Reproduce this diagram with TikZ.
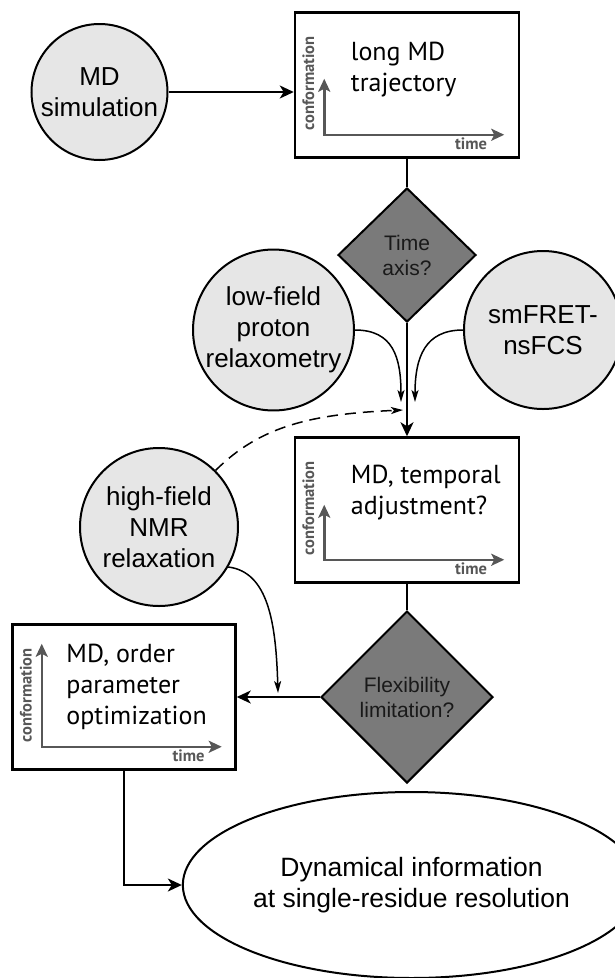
\documentclass[tikz,border=0pt]{standalone}
\usepackage{fontspec}
\setmainfont{Liberation Sans}
\newfontfamily\plotfont{PT Sans}
\usetikzlibrary{shapes.geometric,arrows.meta,positioning}

\definecolor{circfill}{HTML}{E6E6E6}
\definecolor{askfill}{HTML}{7A7A7A}
\definecolor{axisgray}{HTML}{575757}

\tikzset{
  method/.style={circle,draw,line width=2pt,fill=circfill,minimum size=#1,inner sep=0pt,align=center,font=\fontsize{26}{31}\selectfont},
  plotbox/.style={draw,line width=2.5pt,minimum width=224pt,minimum height=145pt,inner sep=0pt},
  boxtext/.style={align=left,inner sep=0pt,font=\plotfont\fontsize{26}{31}\selectfont},
  question/.style={diamond,draw,line width=2pt,fill=askfill,inner sep=0pt,align=center,text=black!90,font=\fontsize{21}{25}\selectfont},
  axis/.style={draw=axisgray,line width=2.5pt,{Stealth[length=13pt,width=12pt,inset=3pt]}-{Stealth[length=13pt,width=12pt,inset=3pt]}},
  axislabel/.style={text=axisgray,inner sep=0pt,font=\plotfont\bfseries\fontsize{16.5}{16.5}\selectfont},
  flow/.style={line width=2pt,-{Stealth[length=14pt,width=13pt,inset=4pt]}},
  feed/.style={line width=1.5pt,-{Stealth[length=12pt,width=7pt,inset=3pt]}}
}

\begin{document}
\begin{tikzpicture}[x=1pt,y=-1pt]
\useasboundingbox (0,0) rectangle (615,978);
\node[method=136pt] (sim) at (99.5,92) {MD\\simulation};
\node[plotbox] (traj) at (407,85) {};
\node[boxtext,below right=31pt and 57pt of traj.north west] (trajtxt) {long MD\\trajectory};
\node[question,minimum width=138pt,minimum height=134pt] (axisq) at (407,255) {Time\\axis?};
\node[method=160pt] (lowfield) at (273.5,330) {low-field\\proton\\relaxometry};
\node[method=158pt] (fret) at (543,330) {smFRET-\\nsFCS};
\node[plotbox] (temp) at (407,510) {};
\node[boxtext,below right=29pt and 57pt of temp.north west] (temptxt) {MD, temporal\\adjustment?};
\node[method=158pt] (nmr) at (159,527) {high-field\\NMR\\relaxation};
\node[question,minimum width=172pt,minimum height=172pt] (flexq) at (407,697) {Flexibility\\limitation?};
\node[plotbox,minimum width=223pt] (order) at (124,697) {};
\node[boxtext,below right=21pt and 55pt of order.north west] (ordertxt) {MD, order\\parameter\\optimization};
\node[ellipse,draw,line width=2pt,minimum width=337pt,minimum height=186pt,align=center,font=\fontsize{26.5}{31}\selectfont] (info) at (411.5,885) {Dynamical information\\at single-residue resolution};

\foreach \b/\h in {traj/56,temp/55,order/103}{
  \coordinate (\b0) at ([xshift=30.5pt,yshift=24pt]\b.south west);
  \draw[axis] ([yshift=\h pt]\b0) -- (\b0) -- ++(180,0);
  \node[axislabel,rotate=90,anchor=west] at ([xshift=-16pt,yshift=4pt]\b0) {conformation};
  \node[axislabel,anchor=base east] at ([xshift=163pt,yshift=-14.5pt]\b0) {time};
}

\draw[flow] (sim.east) -- (sim.east -| traj.west);
\draw[line width=2pt] (traj.south) -- (axisq.north);
\draw[flow] (axisq.south) -- (temp.north);
\coordinate (lowin) at (401,402);
\coordinate (fretin) at (415,402);
\coordinate (nmrin) at (403,410);
\coordinate (flexin) at (278,693);
\draw[feed] (lowfield.east) .. controls +(38,0) and +(0,-45) .. (lowin);
\draw[feed] (fret.west) .. controls +(-38,0) and +(0,-45) .. (fretin);
\draw[feed,dash pattern=on 11pt off 7pt] (nmr.45) .. controls +(45,-45) and +(-90,4) .. (nmrin);
\draw[feed] (nmr.-30) .. controls +(40,5) and +(-2,-70) .. (flexin);
\draw[line width=2pt] (temp.south) -- (flexq.north);
\draw[flow] (flexq.west) -- (order.east);
\draw[flow] (order.south) |- (info.west);
\end{tikzpicture}
\end{document}
